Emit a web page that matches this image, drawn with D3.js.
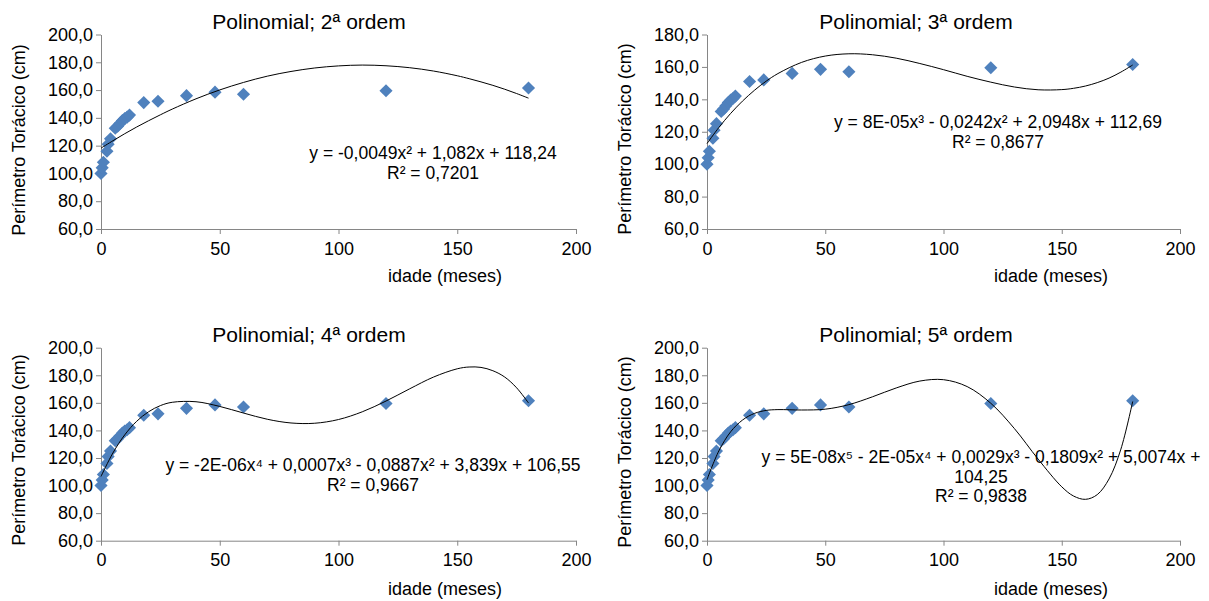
<!DOCTYPE html>
<html>
<head>
<meta charset="utf-8">
<script src="https://cdn.jsdelivr.net/npm/d3@7"></script>
<style>
  body { margin: 0; background: #fff; }
  text { font-family: "Liberation Sans", Arial, sans-serif; fill: #000; }
</style>
</head>
<body>
<div id="chart"></div>
<script>
// observed data (idade em meses, perímetro torácico em cm)
const ages = [0, 0.5, 1, 2.5, 3, 4, 6, 7, 8, 9, 10, 11, 12, 18, 24, 36, 48, 60, 120, 180];
const perimetro = [100, 104, 108, 116, 121, 125, 132.5, 134, 136, 138, 139.5, 140.5, 142, 151, 152, 156, 158.5, 157, 159.5, 161.5];

const fitX = [0, 5, 10, 15, 20, 25, 30, 40, 50, 60, 70, 80, 90, 100, 110, 120, 130, 140, 150, 155, 160, 165, 170, 175, 180];
const fit2 = [118.2, 123.5, 128.6, 133.4, 137.9, 142.2, 146.3, 153.7, 160.1, 165.5, 170.0, 173.4, 175.9, 177.4, 178.0, 177.5, 176.1, 173.7, 170.3, 168.2, 165.9, 163.4, 160.6, 157.5, 154.2];
const fit3 = [112.7, 122.6, 131.3, 138.9, 145.5, 151.2, 155.9, 162.8, 166.7, 168.1, 167.5, 165.4, 162.1, 158.3, 154.2, 150.6, 147.6, 145.9, 146.0, 146.8, 148.2, 150.3, 153.1, 156.8, 161.2];
const fit4 = [106.6, 123.6, 136.8, 146.6, 153.5, 158.0, 160.4, 160.8, 157.4, 152.6, 148.1, 145.4, 145.2, 147.9, 153.5, 161.3, 170.2, 178.7, 184.7, 186.0, 185.7, 183.3, 178.7, 170.9, 159.9];
const fit5 = [104.3, 125.1, 139.0, 147.5, 152.3, 154.5, 155.1, 154.8, 155.4, 158.7, 164.4, 170.8, 175.8, 176.8, 171.8, 159.7, 141.3, 119.2, 99.1, 92.4, 90.0, 93.4, 104.8, 126.4, 161.0];

const xTicks = [0, 50, 100, 150, 200];
const yTicks200 = [60, 80, 100, 120, 140, 160, 180, 200];
const yTicks180 = [60, 80, 100, 120, 140, 160, 180];

const titles = ["Polinomial; 2ª ordem", "Polinomial; 3ª ordem", "Polinomial; 4ª ordem", "Polinomial; 5ª ordem"];
const equations = [
  ["y = -0,0049x² + 1,082x + 118,24", "R² = 0,7201"],
  ["y = 8E-05x³ - 0,0242x² + 2,0948x + 112,69", "R² = 0,8677"],
  ["y = -2E-06x⁴ + 0,0007x³ - 0,0887x² + 3,839x + 106,55", "R² = 0,9667"],
  ["y = 5E-08x⁵ - 2E-05x⁴ + 0,0029x³ - 0,1809x² + 5,0074x +", "104,25", "R² = 0,9838"]
];

const W = 1209, H = 601;
const svg = d3.select("#chart").append("svg")
  .attr("width", W)
  .attr("height", H);

const ptBR = d3.formatLocale({ decimal: ",", thousands: ".", grouping: [3], currency: ["", ""] });
const fmt1 = ptBR.format(".1f");

const panels = [
  { left: 101, right: 576, top: 34.5, bottom: 229, yMax: 200, yTicks: yTicks200, fit: fit2,
    titleX: 309, titleY: 29, eqX: 433, eqY: 159, yTitleX: 19, yTitleY: 140, xTitleX: 445, xTitleY: 282 },
  { left: 707, right: 1180, top: 34.5, bottom: 229, yMax: 180, yTicks: yTicks180, fit: fit3,
    titleX: 916, titleY: 29, eqX: 998, eqY: 128, yTitleX: 625, yTitleY: 139, xTitleX: 1051, xTitleY: 282 },
  { left: 101, right: 576, top: 347.7, bottom: 540.7, yMax: 200, yTicks: yTicks200, fit: fit4,
    titleX: 309, titleY: 342, eqX: 373, eqY: 471, yTitleX: 19, yTitleY: 450, xTitleX: 445, xTitleY: 595 },
  { left: 707, right: 1180, top: 347.7, bottom: 540.7, yMax: 200, yTicks: yTicks200, fit: fit5,
    titleX: 916, titleY: 342, eqX: 981, eqY: 463, yTitleX: 625, yTitleY: 452, xTitleX: 1051, xTitleY: 595 }
];

const axisColor = "#868686";

panels.forEach((p, i) => {
  const x = d3.scaleLinear().domain([0, 200]).range([p.left, p.right]);
  const y = d3.scaleLinear().domain([60, p.yMax]).range([p.bottom, p.top]);

  const g = svg.append("g");

  // y axis
  const ya = g.append("g")
    .attr("transform", `translate(${p.left},0)`)
    .call(d3.axisLeft(y).tickValues(p.yTicks).tickFormat(fmt1).tickSize(5).tickSizeOuter(0).tickPadding(3));
  ya.select(".domain").attr("stroke", axisColor);
  ya.selectAll(".tick line").attr("stroke", axisColor);
  ya.selectAll(".tick text").attr("font-size", 18).attr("font-family", "Liberation Sans, Arial");

  // x axis
  const xa = g.append("g")
    .attr("transform", `translate(0,${p.bottom})`)
    .call(d3.axisBottom(x).tickValues(xTicks).tickSize(5).tickSizeOuter(0).tickPadding(8));
  xa.select(".domain").attr("stroke", axisColor);
  xa.selectAll(".tick line").attr("stroke", axisColor);
  xa.selectAll(".tick text").attr("font-size", 18).attr("font-family", "Liberation Sans, Arial");

  // markers
  const pts = ages.map((a, k) => [a, perimetro[k]]);
  g.append("g").selectAll("path")
    .data(pts)
    .join("path")
    .attr("d", d3.symbol(d3.symbolSquare, 86))
    .attr("transform", d => `translate(${x(d[0])},${y(d[1])}) rotate(45)`)
    .attr("fill", "#4F81BD");

  // trend curve
  const line = d3.line()
    .x((d, k) => x(fitX[k]))
    .y(d => y(d))
    .curve(d3.curveCatmullRom.alpha(0.5));
  g.append("path")
    .attr("d", line(p.fit))
    .attr("fill", "none")
    .attr("stroke", "#000")
    .attr("stroke-width", 1);

  // title
  g.append("text")
    .attr("x", p.titleX).attr("y", p.titleY)
    .attr("text-anchor", "middle")
    .attr("font-size", 21)
    .text(titles[i]);

  // equation + R²
  equations[i].forEach((s, k) => {
    g.append("text")
      .attr("x", p.eqX).attr("y", p.eqY + k * 19.5)
      .attr("text-anchor", "middle")
      .attr("font-size", 17.5)
      .text(s);
  });

  // axis titles
  g.append("text")
    .attr("transform", `translate(${p.yTitleX},${p.yTitleY}) rotate(-90)`)
    .attr("text-anchor", "middle")
    .attr("dy", "0.35em")
    .attr("font-size", 18)
    .text("Perímetro Torácico (cm)");

  g.append("text")
    .attr("x", p.xTitleX).attr("y", p.xTitleY)
    .attr("text-anchor", "middle")
    .attr("font-size", 18)
    .text("idade (meses)");
});
</script>
</body>
</html>
